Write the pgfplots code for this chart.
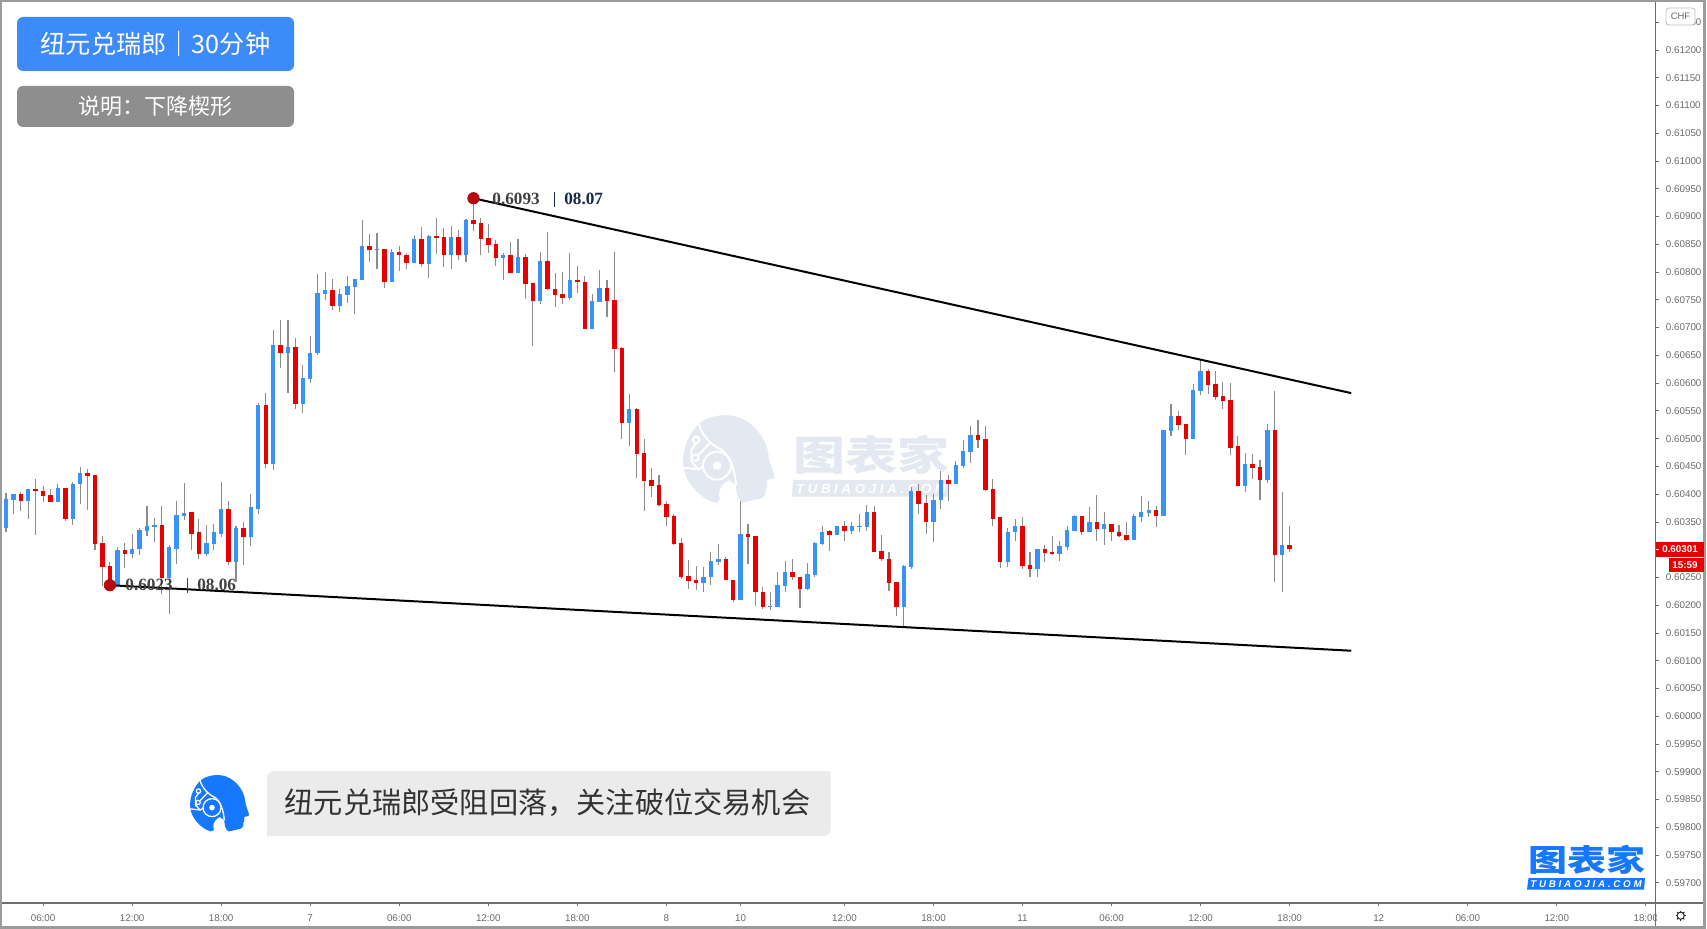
\documentclass[border=0pt]{standalone}
\usepackage{pgfplots}
\usepackage{pgfplotstable}
\usepackage{fontspec}
\pgfplotsset{compat=1.18}
\setmainfont{Liberation Sans}
\newfontfamily\cjk{Noto Sans CJK SC}
\newfontfamily\numserif{Liberation Serif}
\newfontfamily\logofont[LetterSpace=28]{Liberation Sans}
\definecolor{upblue}{HTML}{3794F5}
\definecolor{downred}{HTML}{E60000}
\definecolor{wick}{HTML}{8C8C8C}
\definecolor{axisgray}{HTML}{6E6E6E}
\definecolor{ticktext}{HTML}{6A6A6A}
\definecolor{framegray}{HTML}{9B9B9B}
\definecolor{dotred}{HTML}{B50A0F}
\definecolor{navy}{HTML}{14294B}
\definecolor{markgray}{HTML}{E4E8F0}
\definecolor{logoblue}{HTML}{1677FF}
\definecolor{titleblue}{HTML}{3D8BFA}
\definecolor{notegray}{HTML}{8E8E8E}
\definecolor{calloutgray}{HTML}{EBEBEB}

% i open high low close, one row per 30 minute candle
\pgfplotstableread{
i o h l c
0 0.60339 0.60403 0.60331 0.60392
1 0.60390 0.60400 0.60365 0.60400
3 0.60388 0.60409 0.60356 0.60409
7 0.60386 0.60419 0.60385 0.60412
9 0.60355 0.60422 0.60345 0.60419
10 0.60418 0.60449 0.60382 0.60438
15 0.60237 0.60305 0.60237 0.60299
17 0.60293 0.60329 0.60285 0.60302
18 0.60301 0.60339 0.60291 0.60336
19 0.60334 0.60379 0.60324 0.60342
20 0.60341 0.60357 0.60313 0.60344
22 0.60249 0.60309 0.60185 0.60304
23 0.60302 0.60388 0.60275 0.60363
24 0.60361 0.60420 0.60354 0.60366
27 0.60293 0.60344 0.60289 0.60312
28 0.60310 0.60347 0.60300 0.60331
29 0.60329 0.60422 0.60323 0.60374
31 0.60278 0.60342 0.60241 0.60339
33 0.60322 0.60401 0.60306 0.60376
34 0.60374 0.60564 0.60365 0.60561
36 0.60455 0.60696 0.60444 0.60668
38 0.60655 0.60714 0.60583 0.60665
40 0.60563 0.60633 0.60547 0.60609
41 0.60608 0.60685 0.60601 0.60655
42 0.60654 0.60797 0.60651 0.60763
43 0.60761 0.60801 0.60750 0.60767
45 0.60739 0.60770 0.60729 0.60761
46 0.60759 0.60793 0.60745 0.60775
47 0.60773 0.60788 0.60724 0.60788
48 0.60786 0.60894 0.60785 0.60847
50 0.60839 0.60871 0.60805 0.60842
52 0.60782 0.60842 0.60782 0.60836
55 0.60817 0.60866 0.60817 0.60860
57 0.60814 0.60867 0.60790 0.60865
60 0.60831 0.60883 0.60805 0.60863
62 0.60831 0.60895 0.60818 0.60894
67 0.60825 0.60835 0.60786 0.60831
69 0.60798 0.60860 0.60798 0.60828
72 0.60748 0.60836 0.60743 0.60820
76 0.60754 0.60835 0.60749 0.60785
79 0.60697 0.60761 0.60697 0.60748
80 0.60746 0.60804 0.60746 0.60772
84 0.60529 0.60581 0.60487 0.60554
94 0.60240 0.60268 0.60224 0.60251
95 0.60250 0.60296 0.60237 0.60280
96 0.60278 0.60310 0.60272 0.60283
99 0.60209 0.60387 0.60209 0.60328
103 0.60196 0.60224 0.60192 0.60199
104 0.60197 0.60260 0.60197 0.60236
105 0.60235 0.60280 0.60223 0.60260
108 0.60230 0.60276 0.60227 0.60256
109 0.60254 0.60314 0.60250 0.60312
110 0.60310 0.60343 0.60308 0.60332
112 0.60326 0.60343 0.60326 0.60342
114 0.60334 0.60349 0.60328 0.60342
115 0.60340 0.60364 0.60331 0.60343
116 0.60341 0.60380 0.60334 0.60368
121 0.60197 0.60272 0.60160 0.60271
122 0.60269 0.60413 0.60266 0.60406
125 0.60349 0.60401 0.60313 0.60390
126 0.60389 0.60441 0.60374 0.60425
128 0.60419 0.60460 0.60419 0.60452
129 0.60451 0.60497 0.60448 0.60478
130 0.60476 0.60523 0.60457 0.60507
135 0.60278 0.60339 0.60268 0.60332
136 0.60331 0.60356 0.60315 0.60342
139 0.60265 0.60301 0.60250 0.60301
142 0.60293 0.60315 0.60280 0.60307
143 0.60305 0.60343 0.60300 0.60336
144 0.60334 0.60363 0.60334 0.60360
146 0.60332 0.60376 0.60332 0.60350
148 0.60337 0.60367 0.60309 0.60347
152 0.60318 0.60365 0.60318 0.60361
153 0.60359 0.60397 0.60349 0.60368
154 0.60366 0.60388 0.60358 0.60371
156 0.60361 0.60516 0.60361 0.60516
157 0.60514 0.60563 0.60505 0.60540
160 0.60500 0.60599 0.60500 0.60588
161 0.60586 0.60641 0.60578 0.60622
167 0.60415 0.60475 0.60404 0.60454
170 0.60425 0.60526 0.60421 0.60516
172 0.60291 0.60404 0.60224 0.60309
}\upbars
\pgfplotstableread{
i o h l c
2 0.60400 0.60403 0.60369 0.60388
4 0.60409 0.60427 0.60326 0.60405
5 0.60406 0.60414 0.60385 0.60397
6 0.60398 0.60410 0.60386 0.60386
8 0.60412 0.60412 0.60351 0.60355
11 0.60438 0.60446 0.60372 0.60433
12 0.60435 0.60435 0.60300 0.60310
13 0.60312 0.60325 0.60234 0.60269
14 0.60270 0.60278 0.60237 0.60237
16 0.60299 0.60312 0.60267 0.60293
21 0.60344 0.60379 0.60221 0.60249
25 0.60367 0.60368 0.60299 0.60329
26 0.60331 0.60355 0.60283 0.60293
30 0.60374 0.60387 0.60273 0.60278
32 0.60339 0.60350 0.60273 0.60322
35 0.60561 0.60582 0.60448 0.60455
37 0.60668 0.60713 0.60628 0.60655
39 0.60665 0.60681 0.60554 0.60563
44 0.60767 0.60788 0.60731 0.60739
49 0.60847 0.60868 0.60818 0.60839
51 0.60842 0.60842 0.60772 0.60782
53 0.60836 0.60847 0.60802 0.60830
54 0.60831 0.60835 0.60805 0.60817
56 0.60860 0.60882 0.60810 0.60814
58 0.60865 0.60897 0.60833 0.60862
59 0.60863 0.60880 0.60810 0.60831
61 0.60863 0.60876 0.60821 0.60831
63 0.60894 0.60930 0.60874 0.60887
64 0.60889 0.60898 0.60831 0.60860
65 0.60862 0.60887 0.60834 0.60849
66 0.60851 0.60858 0.60811 0.60825
68 0.60831 0.60855 0.60798 0.60798
70 0.60828 0.60833 0.60752 0.60778
71 0.60780 0.60780 0.60667 0.60748
73 0.60820 0.60872 0.60767 0.60769
74 0.60770 0.60799 0.60737 0.60759
75 0.60761 0.60801 0.60743 0.60754
77 0.60785 0.60811 0.60763 0.60782
78 0.60783 0.60793 0.60697 0.60697
81 0.60772 0.60786 0.60719 0.60748
82 0.60750 0.60836 0.60620 0.60662
83 0.60664 0.60665 0.60500 0.60529
85 0.60554 0.60555 0.60430 0.60473
86 0.60475 0.60499 0.60370 0.60424
87 0.60425 0.60447 0.60395 0.60415
88 0.60417 0.60435 0.60378 0.60380
89 0.60382 0.60388 0.60343 0.60358
90 0.60360 0.60364 0.60308 0.60310
91 0.60312 0.60321 0.60248 0.60251
92 0.60253 0.60282 0.60230 0.60244
93 0.60246 0.60270 0.60227 0.60240
97 0.60283 0.60287 0.60245 0.60245
98 0.60246 0.60246 0.60206 0.60209
100 0.60328 0.60347 0.60275 0.60323
101 0.60325 0.60325 0.60199 0.60223
102 0.60224 0.60232 0.60194 0.60197
106 0.60260 0.60283 0.60245 0.60250
107 0.60251 0.60251 0.60195 0.60230
111 0.60333 0.60335 0.60297 0.60326
113 0.60342 0.60351 0.60316 0.60334
117 0.60368 0.60379 0.60296 0.60296
118 0.60298 0.60326 0.60279 0.60283
119 0.60284 0.60296 0.60225 0.60240
120 0.60242 0.60242 0.60180 0.60197
123 0.60406 0.60419 0.60365 0.60382
124 0.60384 0.60399 0.60328 0.60349
127 0.60425 0.60434 0.60388 0.60419
131 0.60507 0.60534 0.60484 0.60497
132 0.60499 0.60523 0.60405 0.60407
133 0.60409 0.60427 0.60342 0.60356
134 0.60358 0.60358 0.60267 0.60278
137 0.60342 0.60358 0.60266 0.60270
138 0.60272 0.60296 0.60251 0.60265
140 0.60301 0.60308 0.60278 0.60294
141 0.60296 0.60325 0.60290 0.60293
145 0.60360 0.60360 0.60327 0.60332
147 0.60350 0.60398 0.60315 0.60337
149 0.60347 0.60347 0.60316 0.60331
150 0.60332 0.60345 0.60322 0.60324
151 0.60326 0.60349 0.60315 0.60318
155 0.60371 0.60379 0.60340 0.60361
158 0.60540 0.60550 0.60515 0.60524
159 0.60526 0.60526 0.60471 0.60500
162 0.60622 0.60625 0.60580 0.60596
163 0.60598 0.60622 0.60569 0.60575
164 0.60577 0.60602 0.60554 0.60567
165 0.60569 0.60601 0.60470 0.60484
166 0.60486 0.60505 0.60415 0.60415
168 0.60454 0.60473 0.60428 0.60448
169 0.60449 0.60462 0.60390 0.60425
171 0.60516 0.60585 0.60242 0.60291
173 0.60309 0.60343 0.60295 0.60301
}\downbars

% head logo, drawn in units of the watermark's zoomed pixels
\newcommand{\headicon}[5]{%
\begin{scope}[shift={(#1,#2)},scale=#3]
\fill[#4] (114,72) .. controls (140,50) and (180,42) .. (215,47)
  .. controls (270,55) and (320,110) .. (325,170)
  .. controls (328,190) and (338,212) .. (342,228) -- (340,236) -- (320,240)
  .. controls (322,250) and (322,262) .. (316,268)
  .. controls (318,285) and (310,296) .. (295,297)
  .. controls (280,300) and (262,305) .. (248,308)
  .. controls (232,300) and (228,280) .. (227,255)
  -- (205,240) .. controls (190,250) and (175,262) .. (176,285)
  .. controls (182,300) and (175,310) .. (165,308)
  .. controls (130,300) and (85,260) .. (72,215)
  .. controls (60,170) and (75,115) .. (114,72) -- cycle;
\draw[white,line width=#5] (114,70) .. controls (125,105) and (150,135) .. (185,150)
  .. controls (210,170) and (224,210) .. (227,255);
\draw[white,line width=#5] (170,197) circle[radius=42];
\fill[white] (170,197) circle[radius=13];
\draw[white,line width=#5] (107,120) circle[radius=10] (105,173) circle[radius=10];
\draw[white,line width=#5] (107,130) -- (93,150) -- (93,185) -- (115,208) -- (130,200);
\draw[white,line width=#5] (113,166) -- (150,128);
\draw[white,line width=#5] (68,203) -- (115,208);
\end{scope}}

\begin{document}
\begin{tikzpicture}[x=0.5pt,y=-0.5pt]
\path[use as bounding box] (0,0) rectangle (1707,929);
\fill[white] (0,0) rectangle (1707,929);

% watermark sits below the candles
\headicon{660.33}{400}{0.3333}{markgray}{1pt}
\node[anchor=center,inner sep=0pt,text=markgray] at (871,455)
  {\scalebox{1}[0.78]{\fontsize{26}{26}\selectfont\cjk\bfseries 图表家}};
\fill[markgray] (791.7,496.7) -- (793.3,480) -- (950,480) -- (948.3,496.7) -- cycle;
\node[anchor=center,inner sep=0pt,text=white] at (871,488.5)
  {\fontsize{6.6}{7}\selectfont\logofont\bfseries\itshape TUBIAOJIA.COM};

\begin{axis}[
    at={(1pt,-451.5pt)}, anchor=south west,
    scale only axis, width=826.85pt, height=450.5pt,
    xmin=-0.539, xmax=222.33,
    ymin=0.596636, ymax=0.612865,
    axis y line=right, axis x line=bottom,
    axis line style={-,color=axisgray,line width=0.6pt},
    tick align=outside, major tick length=1.6pt,
    tick style={color=axisgray,line width=0.4pt},
    xtick={5,17,29,41,53,65,77,89,99,113,125,137,149,161,173,185,197,209,221},
    xticklabels={06:00,12:00,18:00,7,06:00,12:00,18:00,8,10,12:00,18:00,11,06:00,12:00,18:00,12,06:00,12:00,18:00},
    ytick={0.597,0.5975,0.598,0.5985,0.599,0.5995,0.6,0.6005,0.601,0.6015,0.602,0.6025,0.6035,0.604,0.6045,0.605,0.6055,0.606,0.6065,0.607,0.6075,0.608,0.6085,0.609,0.6095,0.61,0.6105,0.611,0.6115,0.612,0.6125},
    scaled y ticks=false,
    tick label style={font=\fontsize{4.9}{5}\selectfont,text=ticktext},
    xticklabel style={yshift=-0.6pt},
    yticklabel style={xshift=0pt,/pgf/number format/fixed,/pgf/number format/fixed zerofill,/pgf/number format/precision=5,/pgf/number format/assume math mode=true},
    clip=true,
]
% wicks first, bodies over them
\addplot[draw=none,mark=none,error bars/.cd,y dir=plus,y explicit,error mark=none,
    error bar style={line width=0.55pt,color=wick}]
    table[x=i,y=l,y error plus expr=\thisrow{h}-\thisrow{l}] {\upbars};
\addplot[draw=none,mark=none,error bars/.cd,y dir=plus,y explicit,error mark=none,
    error bar style={line width=0.55pt,color=wick}]
    table[x=i,y=l,y error plus expr=\thisrow{h}-\thisrow{l}] {\downbars};
\addplot[draw=none,mark=none,error bars/.cd,y dir=plus,y explicit,error mark=none,
    error bar style={line width=2.2pt,color=upblue}]
    table[x=i,y=o,y error plus expr=\thisrow{c}-\thisrow{o}] {\upbars};
\addplot[draw=none,mark=none,error bars/.cd,y dir=plus,y explicit,error mark=none,
    error bar style={line width=2.2pt,color=downred}]
    table[x=i,y=c,y error plus expr=\thisrow{o}-\thisrow{c}] {\downbars};

% wedge lines
\addplot[black,line width=1pt] coordinates {(63,0.60933) (181.3,0.60582)};
\addplot[black,line width=1pt] coordinates {(14,0.60236) (181.3,0.60118)};
\addplot[only marks,mark=*,mark size=2.85pt,color=dotred,mark options={fill=dotred,draw=dotred}]
    coordinates {(63,0.60933) (14,0.60236)};

\node[anchor=west,inner sep=0pt,font=\fontsize{8.6}{8}\selectfont\numserif\bfseries,text=black!75]
    at (axis cs:65.5,0.60931) {0.6093\hspace{7pt}\textcolor{navy}{\rule[-1.2pt]{0.8pt}{7.5pt}\hspace{4.5pt}08.07}};
\node[anchor=west,inner sep=0pt,font=\fontsize{8.6}{8}\selectfont\numserif\bfseries,text=black!75]
    at (axis cs:16.05,0.60236) {0.6023\hspace{7pt}\rule[-1.2pt]{0.8pt}{7.5pt}\hspace{4.5pt}08.06};
\end{axis}

% frame and the parts of the price and time scales outside the axis box
\fill[white] (1657,904) rectangle (1703,926);
\draw[axisgray,line width=0.6pt] (1655.7,903) -- (1655.7,926);
\draw[axisgray,line width=0.6pt] (1655.7,903) -- (1704,903);
\draw[framegray,line width=1.2pt] (1,1) -- (1704.5,1) -- (1704.5,927.5) -- (1,927.5) -- cycle;

% current price labels
\fill[downred] (1656,542) rectangle (1704,557);
\draw[white,line width=0.4pt] (1656,549.5) -- (1659,549.5);
\node[inner sep=0pt,text=white,font=\fontsize{4.9}{5}\selectfont\bfseries] at (1680,549.5) {0.60301};
\fill[downred] (1669,558) rectangle (1704,572);
\node[inner sep=0pt,text=white,font=\fontsize{4.9}{5}\selectfont\bfseries] at (1685,565) {15:59};

% currency tag
\filldraw[fill=white,draw=black!25,line width=0.4pt,rounded corners=1.5pt] (1666,8) rectangle (1695,25);
\node[inner sep=0pt,text=ticktext,font=\fontsize{4.7}{5}\selectfont] at (1680.5,16.5) {CHF};

% settings icon
\draw[black!85,line width=0.5pt] (1680.7,915.7) circle[radius=3.6];
\foreach \a in {0,45,...,315}
  \draw[black!85,line width=0.5pt] (1680.7,915.7) ++(\a:1.8pt) -- ++(\a:0.8pt);

% title panels
\fill[titleblue,rounded corners=3pt] (17,17) rectangle (294,71);
\node[inner sep=0pt,text=white] at (155.5,44)
  {\fontsize{12.6}{13}\selectfont\cjk 纽元兑瑞郎｜30分钟};
\fill[notegray,rounded corners=3pt] (17,86) rectangle (294,127);
\node[inner sep=0pt,text=white] at (155.5,106.5)
  {\fontsize{11}{12}\selectfont\cjk 说明：下降楔形};

% callout
\headicon{175.5}{765.3}{0.2148}{logoblue}{0.65pt}
\fill[calloutgray] (267,836) [rounded corners=3.5pt] -- (267,771) [sharp corners]
  -- (830.5,771) [rounded corners=3.5pt] -- (830.5,836) [sharp corners] -- cycle;
\node[inner sep=0pt,text=black!80] at (547.5,803)
  {\fontsize{14.6}{16}\selectfont\cjk 纽元兑瑞郎受阻回落，关注破位交易机会};

% brand mark, lower right
\node[inner sep=0pt,text=logoblue] at (1586.5,860)
  {\scalebox{1}[0.78]{\fontsize{19.5}{20}\selectfont\cjk\bfseries 图表家}};
\fill[logoblue] (1527,889.6) -- (1528.5,878) -- (1645,878) -- (1644,889.6) -- cycle;
\node[inner sep=0pt,text=white] at (1586,884)
  {\fontsize{4.9}{5}\selectfont\logofont\bfseries\itshape TUBIAOJIA.COM};
\end{tikzpicture}
\end{document}
